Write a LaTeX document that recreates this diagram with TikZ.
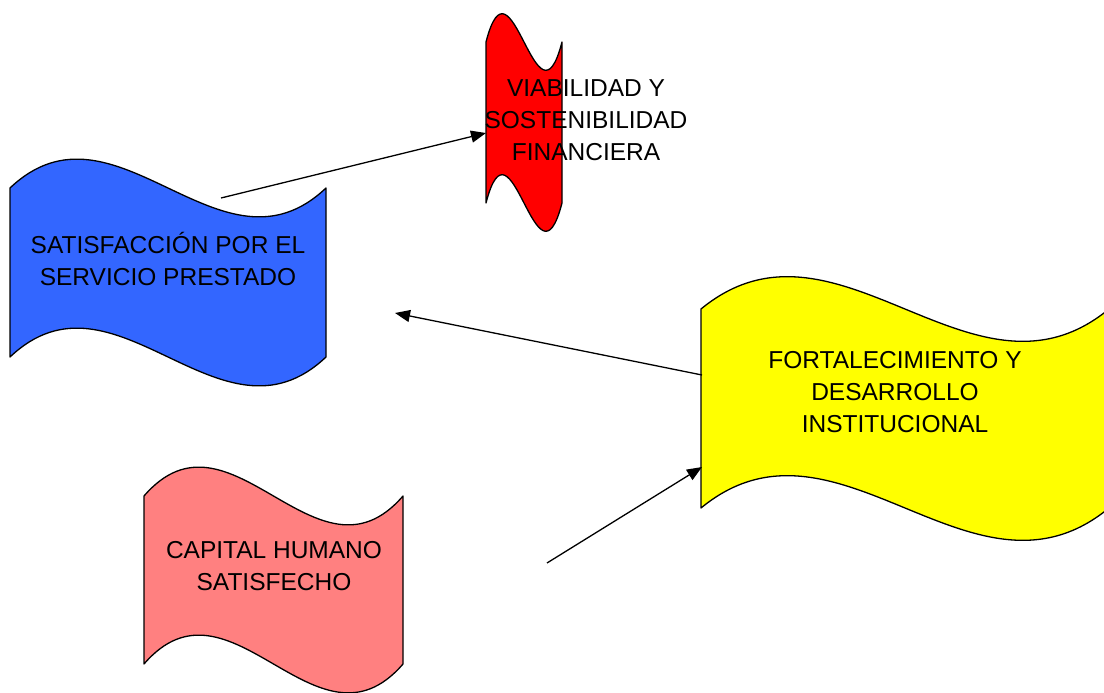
\documentclass[tikz,border=0pt]{standalone}
\usepackage{fontspec}
\setmainfont{Liberation Sans}
\usetikzlibrary{arrows.meta}
\newcommand{\flagshape}[6]{%
 \pgfmathsetmacro\fa{#1+(#2-#1)/3}%
 \pgfmathsetmacro\fb{#1+2*(#2-#1)/3}%
 \pgfmathsetmacro\fc{#3-#5}\pgfmathsetmacro\fd{#3+#5}%
 \pgfmathsetmacro\fe{#4-#5}\pgfmathsetmacro\ff{#4+#5}%
 \draw[flag, fill=#6] (#1,#3) .. controls (\fa,\fc) and (\fb,\fd) .. (#2,#3) -- (#2,#4) .. controls (\fb,\ff) and (\fa,\fe) .. (#1,#4) -- cycle;}
\definecolor{cblue}{HTML}{3366FF}
\definecolor{cred}{HTML}{FF0000}
\definecolor{cyellow}{HTML}{FFFF00}
\definecolor{cpink}{HTML}{FF8080}
\begin{document}
\begin{tikzpicture}[x=1pt,y=-1pt,
  flag/.style={draw=black, line width=1.3pt, line join=round},
  lbl/.style={align=center, inner sep=0pt, font=\fontsize{24.5}{32}\selectfont},
  conn/.style={draw=black, line width=1.3pt, -{Triangle[length=15pt,width=12pt]}}]
\useasboundingbox (0,0) rectangle (1104,693);
\fill[white] (0,0) rectangle (1104,693);
\begin{scope}
\clip (0,0) rectangle (1104,693);
\flagshape{10}{326}{188}{357}{100}{cblue}
\flagshape{486}{562}{42}{203}{98}{cred}
\flagshape{701}{1109}{309}{508}{112}{cyellow}
\flagshape{144}{403}{496}{664}{100}{cpink}
\end{scope}
\node[lbl] (sat) at (168,258.5) {SATISFACCIÓN POR EL\\SERVICIO PRESTADO};
\node[lbl] (via) at (586,120) {VIABILIDAD Y\\SOSTENIBILIDAD\\FINANCIERA};
\node[lbl] (fort) at (895,392) {FORTALECIMIENTO Y\\DESARROLLO\\INSTITUCIONAL};
\node[lbl] (cap) at (274,566) {CAPITAL HUMANO\\SATISFECHO};
\coordinate (a1s) at (221,198);
\coordinate (a1e) at (486,133);
\coordinate (a2s) at (702,375);
\coordinate (a2e) at (395,313);
\coordinate (a3s) at (547,563);
\coordinate (a3e) at (702,467);
\draw[conn] (a1s) -- (a1e);
\draw[conn] (a2s) -- (a2e);
\draw[conn] (a3s) -- (a3e);
\end{tikzpicture}
\end{document}
